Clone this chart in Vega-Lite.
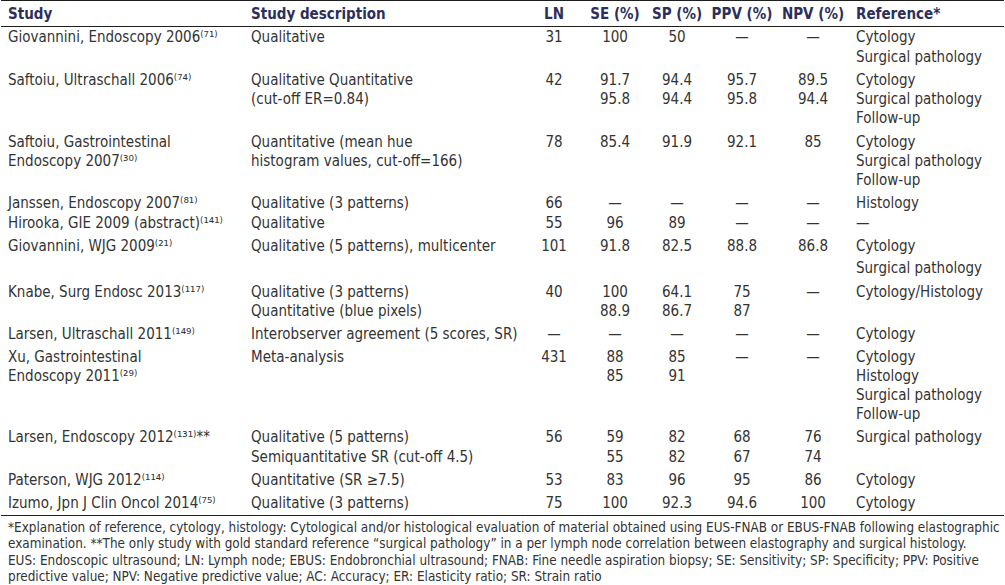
{
  "$schema": "https://vega.github.io/schema/vega-lite/v6.json",
  "width": 1005,
  "height": 585,
  "autosize": {"type": "fit", "contains": "padding"},
  "padding": 0,
  "background": "white",
  "config": {"view": {"stroke": null}},
  "datasets": {
    "rules": [{"at": -1}, {"at": 0.5}, {"at": 23.5}],
    "cells": [
      {"l": 0, "c": 0, "t": "Study", "part": "head"},
      {"l": 0, "c": 1, "t": "Study description", "part": "head"},
      {"l": 0, "c": 2, "t": "LN", "part": "head"},
      {"l": 0, "c": 3, "t": "SE (%)", "part": "head"},
      {"l": 0, "c": 4, "t": "SP (%)", "part": "head"},
      {"l": 0, "c": 5, "t": "PPV (%)", "part": "head"},
      {"l": 0, "c": 6, "t": "NPV (%)", "part": "head"},
      {"l": 0, "c": 7, "t": "Reference*", "part": "head"},

      {"l": 1, "c": 0, "t": "Giovannini, Endoscopy 2006⁽⁷¹⁾", "part": "body"},
      {"l": 1, "c": 1, "t": "Qualitative", "part": "body"},
      {"l": 1, "c": 2, "t": "31", "part": "body"},
      {"l": 1, "c": 3, "t": "100", "part": "body"},
      {"l": 1, "c": 4, "t": "50", "part": "body"},
      {"l": 1, "c": 5, "t": "—", "part": "body"},
      {"l": 1, "c": 6, "t": "—", "part": "body"},
      {"l": 1, "c": 7, "t": "Cytology", "part": "body"},
      {"l": 2, "c": 7, "t": "Surgical pathology", "part": "body"},

      {"l": 3, "c": 0, "t": "Saftoiu, Ultraschall 2006⁽⁷⁴⁾", "part": "body"},
      {"l": 3, "c": 1, "t": "Qualitative Quantitative", "part": "body"},
      {"l": 3, "c": 2, "t": "42", "part": "body"},
      {"l": 3, "c": 3, "t": "91.7", "part": "body"},
      {"l": 3, "c": 4, "t": "94.4", "part": "body"},
      {"l": 3, "c": 5, "t": "95.7", "part": "body"},
      {"l": 3, "c": 6, "t": "89.5", "part": "body"},
      {"l": 3, "c": 7, "t": "Cytology", "part": "body"},
      {"l": 4, "c": 1, "t": "(cut-off ER=0.84)", "part": "body"},
      {"l": 4, "c": 3, "t": "95.8", "part": "body"},
      {"l": 4, "c": 4, "t": "94.4", "part": "body"},
      {"l": 4, "c": 5, "t": "95.8", "part": "body"},
      {"l": 4, "c": 6, "t": "94.4", "part": "body"},
      {"l": 4, "c": 7, "t": "Surgical pathology", "part": "body"},
      {"l": 5, "c": 7, "t": "Follow-up", "part": "body"},

      {"l": 6, "c": 0, "t": "Saftoiu, Gastrointestinal", "part": "body"},
      {"l": 6, "c": 1, "t": "Quantitative (mean hue", "part": "body"},
      {"l": 6, "c": 2, "t": "78", "part": "body"},
      {"l": 6, "c": 3, "t": "85.4", "part": "body"},
      {"l": 6, "c": 4, "t": "91.9", "part": "body"},
      {"l": 6, "c": 5, "t": "92.1", "part": "body"},
      {"l": 6, "c": 6, "t": "85", "part": "body"},
      {"l": 6, "c": 7, "t": "Cytology", "part": "body"},
      {"l": 7, "c": 0, "t": "Endoscopy 2007⁽³⁰⁾", "part": "body"},
      {"l": 7, "c": 1, "t": "histogram values, cut-off=166)", "part": "body"},
      {"l": 7, "c": 7, "t": "Surgical pathology", "part": "body"},
      {"l": 8, "c": 7, "t": "Follow-up", "part": "body"},

      {"l": 9, "c": 0, "t": "Janssen, Endoscopy 2007⁽⁸¹⁾", "part": "body"},
      {"l": 9, "c": 1, "t": "Qualitative (3 patterns)", "part": "body"},
      {"l": 9, "c": 2, "t": "66", "part": "body"},
      {"l": 9, "c": 3, "t": "—", "part": "body"},
      {"l": 9, "c": 4, "t": "—", "part": "body"},
      {"l": 9, "c": 5, "t": "—", "part": "body"},
      {"l": 9, "c": 6, "t": "—", "part": "body"},
      {"l": 9, "c": 7, "t": "Histology", "part": "body"},

      {"l": 10, "c": 0, "t": "Hirooka, GIE 2009 (abstract)⁽¹⁴¹⁾", "part": "body"},
      {"l": 10, "c": 1, "t": "Qualitative", "part": "body"},
      {"l": 10, "c": 2, "t": "55", "part": "body"},
      {"l": 10, "c": 3, "t": "96", "part": "body"},
      {"l": 10, "c": 4, "t": "89", "part": "body"},
      {"l": 10, "c": 5, "t": "—", "part": "body"},
      {"l": 10, "c": 6, "t": "—", "part": "body"},
      {"l": 10, "c": 7, "t": "—", "part": "body"},

      {"l": 11, "c": 0, "t": "Giovannini, WJG 2009⁽²¹⁾", "part": "body"},
      {"l": 11, "c": 1, "t": "Qualitative (5 patterns), multicenter", "part": "body"},
      {"l": 11, "c": 2, "t": "101", "part": "body"},
      {"l": 11, "c": 3, "t": "91.8", "part": "body"},
      {"l": 11, "c": 4, "t": "82.5", "part": "body"},
      {"l": 11, "c": 5, "t": "88.8", "part": "body"},
      {"l": 11, "c": 6, "t": "86.8", "part": "body"},
      {"l": 11, "c": 7, "t": "Cytology", "part": "body"},
      {"l": 12, "c": 7, "t": "Surgical pathology", "part": "body"},

      {"l": 13, "c": 0, "t": "Knabe, Surg Endosc 2013⁽¹¹⁷⁾", "part": "body"},
      {"l": 13, "c": 1, "t": "Qualitative (3 patterns)", "part": "body"},
      {"l": 13, "c": 2, "t": "40", "part": "body"},
      {"l": 13, "c": 3, "t": "100", "part": "body"},
      {"l": 13, "c": 4, "t": "64.1", "part": "body"},
      {"l": 13, "c": 5, "t": "75", "part": "body"},
      {"l": 13, "c": 6, "t": "—", "part": "body"},
      {"l": 13, "c": 7, "t": "Cytology/Histology", "part": "body"},
      {"l": 14, "c": 1, "t": "Quantitative (blue pixels)", "part": "body"},
      {"l": 14, "c": 3, "t": "88.9", "part": "body"},
      {"l": 14, "c": 4, "t": "86.7", "part": "body"},
      {"l": 14, "c": 5, "t": "87", "part": "body"},

      {"l": 15, "c": 0, "t": "Larsen, Ultraschall 2011⁽¹⁴⁹⁾", "part": "body"},
      {"l": 15, "c": 1, "t": "Interobserver agreement (5 scores, SR)", "part": "body"},
      {"l": 15, "c": 2, "t": "—", "part": "body"},
      {"l": 15, "c": 3, "t": "—", "part": "body"},
      {"l": 15, "c": 4, "t": "—", "part": "body"},
      {"l": 15, "c": 5, "t": "—", "part": "body"},
      {"l": 15, "c": 6, "t": "—", "part": "body"},
      {"l": 15, "c": 7, "t": "Cytology", "part": "body"},

      {"l": 16, "c": 0, "t": "Xu, Gastrointestinal", "part": "body"},
      {"l": 16, "c": 1, "t": "Meta-analysis", "part": "body"},
      {"l": 16, "c": 2, "t": "431", "part": "body"},
      {"l": 16, "c": 3, "t": "88", "part": "body"},
      {"l": 16, "c": 4, "t": "85", "part": "body"},
      {"l": 16, "c": 5, "t": "—", "part": "body"},
      {"l": 16, "c": 6, "t": "—", "part": "body"},
      {"l": 16, "c": 7, "t": "Cytology", "part": "body"},
      {"l": 17, "c": 0, "t": "Endoscopy 2011⁽²⁹⁾", "part": "body"},
      {"l": 17, "c": 3, "t": "85", "part": "body"},
      {"l": 17, "c": 4, "t": "91", "part": "body"},
      {"l": 17, "c": 7, "t": "Histology", "part": "body"},
      {"l": 18, "c": 7, "t": "Surgical pathology", "part": "body"},
      {"l": 19, "c": 7, "t": "Follow-up", "part": "body"},

      {"l": 20, "c": 0, "t": "Larsen, Endoscopy 2012⁽¹³¹⁾**", "part": "body"},
      {"l": 20, "c": 1, "t": "Qualitative (5 patterns)", "part": "body"},
      {"l": 20, "c": 2, "t": "56", "part": "body"},
      {"l": 20, "c": 3, "t": "59", "part": "body"},
      {"l": 20, "c": 4, "t": "82", "part": "body"},
      {"l": 20, "c": 5, "t": "68", "part": "body"},
      {"l": 20, "c": 6, "t": "76", "part": "body"},
      {"l": 20, "c": 7, "t": "Surgical pathology", "part": "body"},
      {"l": 21, "c": 1, "t": "Semiquantitative SR (cut-off 4.5)", "part": "body"},
      {"l": 21, "c": 3, "t": "55", "part": "body"},
      {"l": 21, "c": 4, "t": "82", "part": "body"},
      {"l": 21, "c": 5, "t": "67", "part": "body"},
      {"l": 21, "c": 6, "t": "74", "part": "body"},

      {"l": 22, "c": 0, "t": "Paterson, WJG 2012⁽¹¹⁴⁾", "part": "body"},
      {"l": 22, "c": 1, "t": "Quantitative (SR ≥7.5)", "part": "body"},
      {"l": 22, "c": 2, "t": "53", "part": "body"},
      {"l": 22, "c": 3, "t": "83", "part": "body"},
      {"l": 22, "c": 4, "t": "96", "part": "body"},
      {"l": 22, "c": 5, "t": "95", "part": "body"},
      {"l": 22, "c": 6, "t": "86", "part": "body"},
      {"l": 22, "c": 7, "t": "Cytology", "part": "body"},

      {"l": 23, "c": 0, "t": "Izumo, Jpn J Clin Oncol 2014⁽⁷⁵⁾", "part": "body"},
      {"l": 23, "c": 1, "t": "Qualitative (3 patterns)", "part": "body"},
      {"l": 23, "c": 2, "t": "75", "part": "body"},
      {"l": 23, "c": 3, "t": "100", "part": "body"},
      {"l": 23, "c": 4, "t": "92.3", "part": "body"},
      {"l": 23, "c": 5, "t": "94.6", "part": "body"},
      {"l": 23, "c": 6, "t": "100", "part": "body"},
      {"l": 23, "c": 7, "t": "Cytology", "part": "body"},

      {"l": 24, "c": 0, "t": "*Explanation of reference, cytology, histology: Cytological and/or histological evaluation of material obtained using EUS-FNAB or EBUS-FNAB following elastographic", "part": "note"},
      {"l": 25, "c": 0, "t": "examination. **The only study with gold standard reference “surgical pathology” in a per lymph node correlation between elastography and surgical histology.", "part": "note"},
      {"l": 26, "c": 0, "t": "EUS: Endoscopic ultrasound; LN: Lymph node; EBUS: Endobronchial ultrasound; FNAB: Fine needle aspiration biopsy; SE: Sensitivity; SP: Specificity; PPV: Positive", "part": "note"},
      {"l": 27, "c": 0, "t": "predictive value; NPV: Negative predictive value; AC: Accuracy; ER: Elasticity ratio; SR: Strain ratio", "part": "note"}
    ]
  },
  "encoding": {
    "y": {"field": "l", "type": "quantitative", "axis": null,
          "scale": {"domain": [-1, 0, 0.5, 1, 2, 3, 4, 5, 6, 7, 8, 9, 10, 11, 12, 13, 14, 15, 16, 17, 18, 19, 20, 21, 22, 23, 23.5, 24, 25, 26, 27],
                    "range": [0.5, 14, 26.5, 37, 57, 80, 99, 118, 142, 161, 180, 203, 223, 246, 268, 292, 311, 334, 357, 376, 395, 414, 437, 457, 480, 503, 515.5, 528, 544, 561, 577],
                    "zero": false, "nice": false}}
  },
  "layer": [
    {
      "data": {"name": "rules"},
      "mark": {"type": "rule", "color": "#1e1e1e", "strokeWidth": 1},
      "encoding": {
        "y": {"field": "at", "type": "quantitative", "axis": null,
              "scale": {"domain": [-1, 0, 0.5, 1, 2, 3, 4, 5, 6, 7, 8, 9, 10, 11, 12, 13, 14, 15, 16, 17, 18, 19, 20, 21, 22, 23, 23.5, 24, 25, 26, 27],
                        "range": [0.5, 14, 26.5, 37, 57, 80, 99, 118, 142, 161, 180, 203, 223, 246, 268, 292, 311, 334, 357, 376, 395, 414, 437, 457, 480, 503, 515.5, 528, 544, 561, 577],
                        "zero": false, "nice": false}}
      }
    },
    {
      "data": {"name": "cells"},
      "layer": [
        {
          "transform": [{"filter": "datum.part == 'head' && (datum.c <= 1 || datum.c == 7)"}],
          "mark": {"type": "text", "align": "left", "baseline": "middle", "font": "DejaVu Sans Condensed, DejaVu Sans", "fontSize": 15, "fontWeight": "bold", "color": "#2c2f5b"}
        },
        {
          "transform": [{"filter": "datum.part == 'head' && datum.c >= 2 && datum.c <= 6"}],
          "mark": {"type": "text", "align": "center", "baseline": "middle", "font": "DejaVu Sans Condensed, DejaVu Sans", "fontSize": 15, "fontWeight": "bold", "color": "#2c2f5b"}
        },
        {
          "transform": [{"filter": "datum.part == 'body' && (datum.c <= 1 || datum.c == 7)"}],
          "mark": {"type": "text", "align": "left", "baseline": "middle", "font": "DejaVu Sans Condensed, DejaVu Sans", "fontSize": 15, "color": "#333333"}
        },
        {
          "transform": [{"filter": "datum.part == 'body' && datum.c >= 2 && datum.c <= 6"}],
          "mark": {"type": "text", "align": "center", "baseline": "middle", "font": "DejaVu Sans Condensed, DejaVu Sans", "fontSize": 15, "color": "#333333"}
        },
        {
          "transform": [{"filter": "datum.part == 'note'"}],
          "mark": {"type": "text", "align": "left", "baseline": "middle", "font": "DejaVu Sans Condensed, DejaVu Sans", "fontSize": 13.4, "color": "#333333"}
        }
      ],
      "encoding": {
        "x": {"field": "c", "type": "quantitative", "axis": null,
              "scale": {"domain": [0, 1, 2, 3, 4, 5, 6, 7], "range": [7, 250, 553, 614, 676, 741, 812, 855], "zero": false, "nice": false}},
        "text": {"field": "t", "type": "nominal"}
      }
    }
  ]
}
